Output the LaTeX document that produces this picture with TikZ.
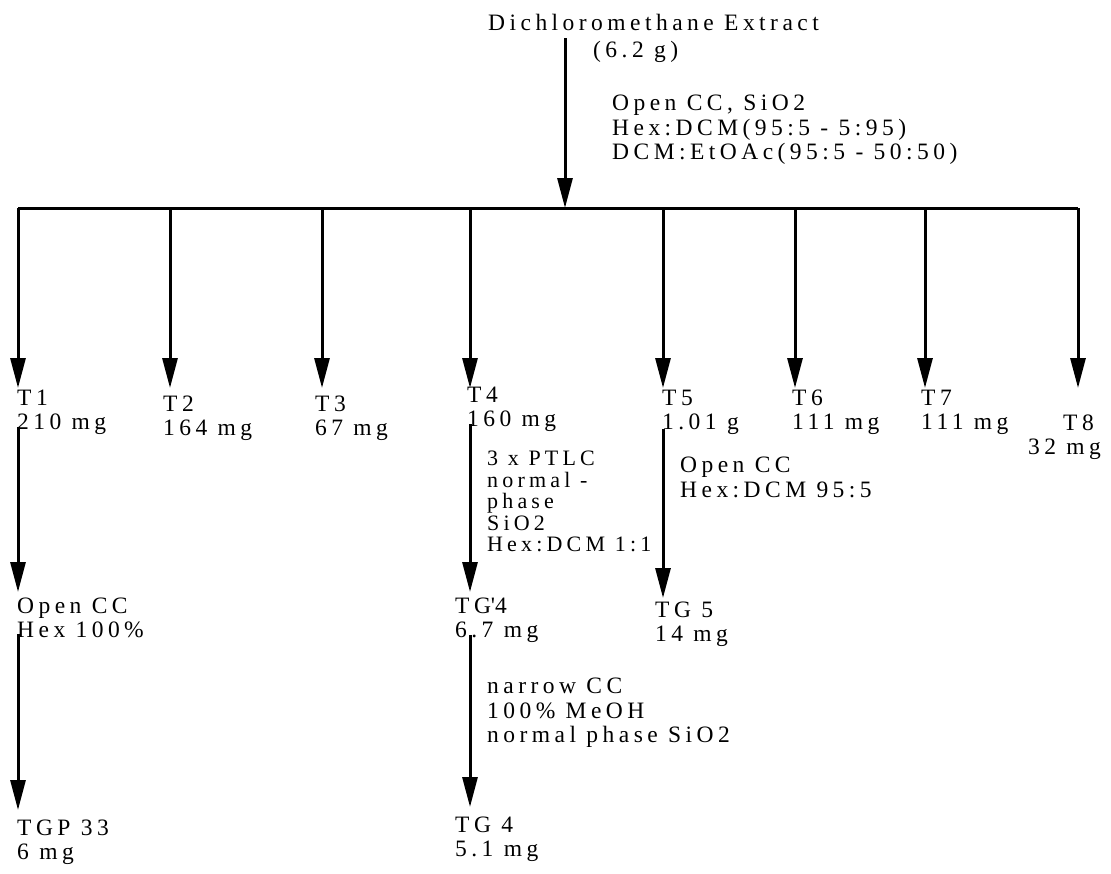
\documentclass[tikz,border=0pt]{standalone}
\usepackage{fontspec}
\setmainfont{Liberation Serif}[LetterSpace=19]
\usetikzlibrary{arrows.meta, positioning}
\tikzset{
  frac/.style={
    anchor=north west, inner sep=0pt, align=left,
    font=\fontsize{23.5}{24}\selectfont
  },
  cond/.style={
    anchor=north west, inner sep=0pt, align=left,
    font=\fontsize{23.5}{24.5}\selectfont
  },
  condsmall/.style={
    anchor=north west, inner sep=0pt, align=left,
    font=\fontsize{22}{21.5}\selectfont
  },
  arr/.style={line width=3pt, -{Triangle[length=30pt, width=15pt]}},
  busline/.style={line width=3pt}
}
\begin{document}
\begin{tikzpicture}[x=1pt, y=-1pt]
  \useasboundingbox (0,0) rectangle (1111,873);

  \node[frac, font=\fontsize{23.5}{27}\selectfont] (src) at (488,14)
    {Dichloromethane Extract\\\hspace*{105pt}(6.2 g)};
  \node[cond] (cc0) at (612,95) {Open CC, SiO2\\Hex:DCM(95:5 - 5:95)\\DCM:EtOAc(95:5 - 50:50)};

  % --- collecteur des fractions ---
  \coordinate (srcfoot) at (565,38);
  \coordinate (bus0) at (565,208);
  \coordinate (tipline) at (0,388);
  \foreach \n/\x in {1/18, 2/170, 3/322, 4/470, 5/663, 6/795, 7/925, 8/1078}
    \coordinate (b\n) at (\x,208);

  \draw[arr] (srcfoot) -- (bus0);
  \draw[busline] (b1) -- (b8);

  \node[frac] (t1) at (17,390) {T1\\210 mg};
  \node[frac] (t2) at (163,396) {T2\\164 mg};
  \node[frac] (t3) at (315,396) {T3\\67 mg};
  \node[frac] (t4) at (467,387) {T4\\160 mg};
  \node[frac] (t5) at (662,390) {T5\\1.01 g};
  \node[frac] (t6) at (792,390) {T6\\111 mg};
  \node[frac] (t7) at (921,390) {T7\\111 mg};
  \node[frac] (t8) at (1028,415) {\hspace*{35pt}T8\\32 mg};

  \foreach \n in {1,...,8}
    \draw[arr] (b\n) -- (b\n |- tipline);

  % --- T1 ---
  \node[frac] (oc1) at (17,598) {Open CC\\Hex 100\%};
  \node[frac] (tgp33) at (17,820) {TGP 33\\6 mg};
  \draw[arr] ([yshift=8pt]t1.south -| b1) -- ([yshift=6pt]oc1.north -| b1);
  \draw[arr] ([yshift=4pt]oc1.south -| b1) -- ([yshift=10pt]tgp33.north -| b1);

  % --- T4 ---
  \node[condsmall] (ptlc) at (487,451) {3 x PTLC\\normal -\\phase\\SiO2\\Hex:DCM 1:1};
  \node[frac] (tgp4) at (455,598) {TG\textquotesingle 4\\6.7 mg};
  \node[cond] (ncc) at (487,678) {narrow CC\\100\% MeOH\\normal phase SiO2};
  \node[frac] (tg4) at (455,817) {TG 4\\5.1 mg};
  \draw[arr] ([yshift=8pt]t4.south -| b4) -- ([yshift=6pt]tgp4.north -| b4);
  \draw[arr] ([yshift=8pt]tgp4.south -| b4) -- ([yshift=10pt]tg4.north -| b4);

  % --- T5 ---
  \node[cond] (occ5) at (680,457) {Open CC\\Hex:DCM 95:5};
  \node[frac] (tg5) at (655,602) {TG 5\\14 mg};
  \draw[arr] ([yshift=6pt]t5.south -| b5) -- ([yshift=4pt]tg5.north -| b5);
\end{tikzpicture}
\end{document}
